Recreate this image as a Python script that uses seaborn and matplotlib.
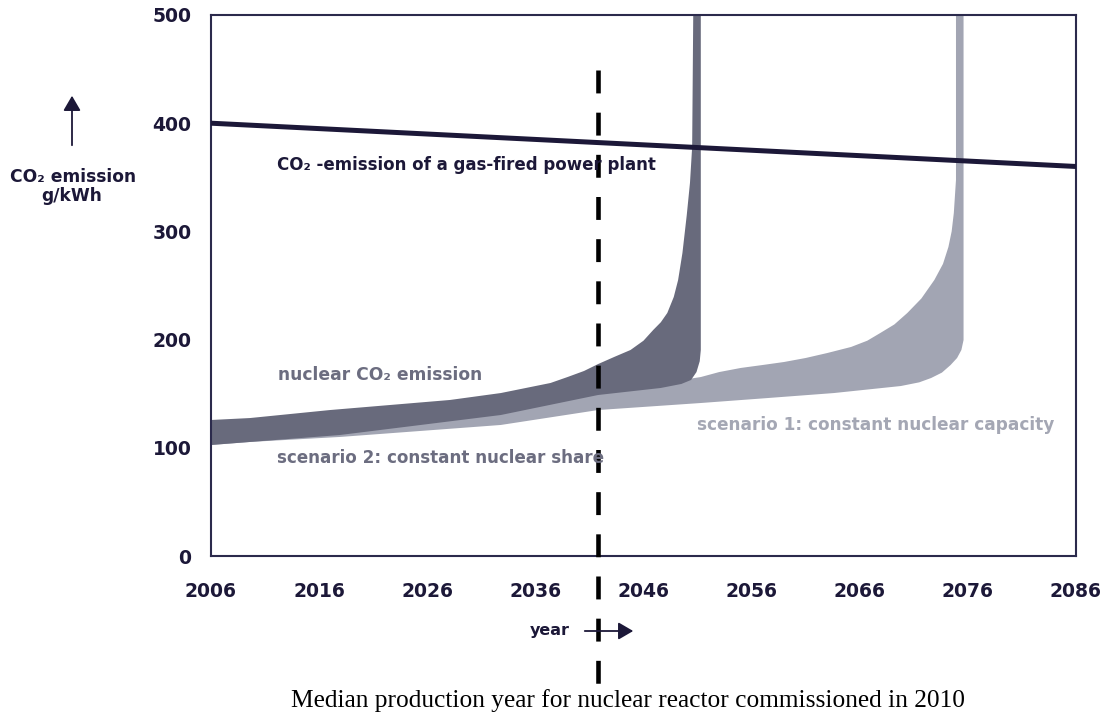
import numpy as np
import pandas as pd
import matplotlib
matplotlib.use("Agg")
import matplotlib.pyplot as plt
import seaborn as sns

# ---------------- data ----------------
x_ticks = [2006, 2016, 2026, 2036, 2046, 2056, 2066, 2076, 2086]
y_ticks = [0, 100, 200, 300, 400, 500]

gas_years = [2006, 2086]
gas_values = [400, 360]

# scenario 2: constant nuclear share (dark band)
s2_upper_years = [2006.0, 2009.6, 2017.0, 2028.1, 2032.8, 2037.4, 2039.0, 2040.5, 2041.8,
                  2043.3, 2044.8, 2046.0, 2046.9, 2047.6, 2048.2, 2048.8, 2049.2, 2049.6,
                  2050.0, 2050.3, 2050.5, 2050.6]
s2_upper_vals = [125.7, 127.5, 134.9, 144.2, 150.6, 159.9, 165.5, 171.0, 177.4,
                 184.0, 190.4, 199.0, 208.9, 216.0, 224.6, 239.4, 255.0, 280.0,
                 315.0, 345.0, 378.0, 500.0]
s2_lower_years = [2006.0, 2017.9, 2032.8, 2041.8, 2047.6, 2049.5, 2050.4, 2050.9,
                  2051.2, 2051.3, 2051.3]
s2_lower_vals = [102.6, 111.8, 130.3, 148.8, 155.3, 159.0, 162.7, 170.0,
                 180.0, 190.4, 500.0]

# scenario 1: constant nuclear capacity (light band)
s1_upper_years = [2006.0, 2032.8, 2041.8, 2047.6, 2050.4, 2051.3, 2053.0, 2055.0, 2057.0,
                  2059.0, 2061.0, 2063.0, 2065.2, 2066.7, 2067.9, 2069.2, 2070.4, 2071.7,
                  2072.9, 2073.7, 2074.2, 2074.5, 2074.7, 2074.9, 2074.9]
s1_upper_vals = [110.0, 138.0, 155.0, 160.0, 164.0, 165.4, 170.0, 173.8, 176.5,
                 179.3, 183.0, 187.6, 193.2, 199.0, 206.1, 214.0, 224.6, 238.0,
                 255.1, 270.0, 285.6, 300.0, 317.0, 347.5, 500.0]
s1_lower_years = [2006.0, 2009.6, 2017.9, 2032.8, 2041.8, 2051.3, 2057.5, 2063.6,
                  2069.8, 2071.5, 2072.6, 2073.6, 2074.4, 2075.0, 2075.4, 2075.6, 2075.6]
s1_lower_vals = [102.6, 105.4, 110.0, 121.1, 134.9, 141.4, 146.0, 150.6,
                 157.1, 160.5, 164.5, 169.5, 176.5, 183.0, 190.4, 199.6, 500.0]

median_year = 2041.8

# ---------------- styling ----------------
sns.set_theme(style="white")
plt.rcParams['font.family'] = ['DejaVu Sans']

NAVY = "#1c1838"
SPINE = "#2b2a4c"
DARK = "#686a7c"
LIGHT = "#a2a5b3"
TXT_DARK = "#6c6d80"
TXT_LIGHT = "#a4a7b4"

W, H = 1108, 717
fig = plt.figure(figsize=(W / 100, H / 100), dpi=100)
ax = fig.add_axes([211 / W, 1 - 556 / H, (1076 - 211) / W, (556 - 15) / H])

def band(ux, uy, lx, ly, color):
    bx = list(ux) + list(lx)[::-1]
    by = list(uy) + list(ly)[::-1]
    ax.fill(bx, by, color=color, lw=0, zorder=2)

band(s1_upper_years, s1_upper_vals, s1_lower_years, s1_lower_vals, LIGHT)
band(s2_upper_years, s2_upper_vals, s2_lower_years, s2_lower_vals, DARK)

gas = pd.DataFrame({"year": gas_years, "co2": gas_values})
sns.lineplot(data=gas, x="year", y="co2", ax=ax, color=NAVY, lw=3.6, zorder=3)

ax.set_xlim(2006, 2086)
ax.set_ylim(0, 500)
ax.set_xticks(x_ticks)
ax.set_xticklabels([str(t) for t in x_ticks], fontweight='bold', color=NAVY, fontsize=13.5)
ax.set_yticks(y_ticks)
ax.set_yticklabels([str(t) for t in y_ticks], fontweight='bold', color=NAVY, fontsize=13.5)
ax.tick_params(axis='both', direction='out', length=7, width=1.5, color=SPINE)
ax.tick_params(axis='x', pad=12)
ax.tick_params(axis='y', pad=7)
ax.set_xlabel("")
ax.set_ylabel("")
for s in ax.spines.values():
    s.set_visible(True)
    s.set_color(SPINE)
    s.set_linewidth(1.5)

# dashed median line (extends below the axes)
ax.plot([median_year, median_year], [449, -118], color="black", lw=3.3,
        dashes=(5.0, 4.2), clip_on=False, zorder=5, solid_capstyle='butt')

# annotations
def px(x, y):
    return (x / W, 1 - y / H)

fig.text(*px(277, 165), "CO₂ -emission of a gas-fired power plant", color=NAVY,
         fontsize=12, fontweight='bold', ha='left', va='center')
fig.text(*px(278, 375), "nuclear CO₂ emission", color=TXT_DARK,
         fontsize=12.3, fontweight='bold', ha='left', va='center')
fig.text(*px(277, 458), "scenario 2: constant nuclear share", color=TXT_DARK,
         fontsize=12.1, fontweight='bold', ha='left', va='center')
fig.text(*px(697, 425), "scenario 1: constant nuclear capacity", color=TXT_LIGHT,
         fontsize=12.2, fontweight='bold', ha='left', va='center')

# y-axis label with arrow
fig.text(*px(73, 177), "CO₂ emission", color=NAVY, fontsize=12.3, fontweight='bold',
         ha='center', va='center')
fig.text(*px(72, 196), "g/kWh", color=NAVY, fontsize=12.3, fontweight='bold',
         ha='center', va='center')
fig.add_artist(matplotlib.patches.FancyArrowPatch(px(72, 148), px(72, 93),
               transform=fig.transFigure, arrowstyle='-|>,head_length=6,head_width=3.5',
               color=NAVY, lw=1.3, mutation_scale=1.5))

# x-axis label with arrow
fig.text(*px(550, 630), "year", color=NAVY, fontsize=11.5, fontweight='bold',
         ha='center', va='center')
fig.add_artist(matplotlib.patches.FancyArrowPatch(px(582, 631), px(636, 631),
               transform=fig.transFigure, arrowstyle='-|>,head_length=6,head_width=3.5',
               color=NAVY, lw=1.3, mutation_scale=1.5))

fig.text(*px(628, 701), "Median production year for nuclear reactor commissioned in 2010",
         family='Liberation Serif', fontsize=18.3, color="black", ha='center', va='center')

fig.savefig("out.png", dpi=100)
